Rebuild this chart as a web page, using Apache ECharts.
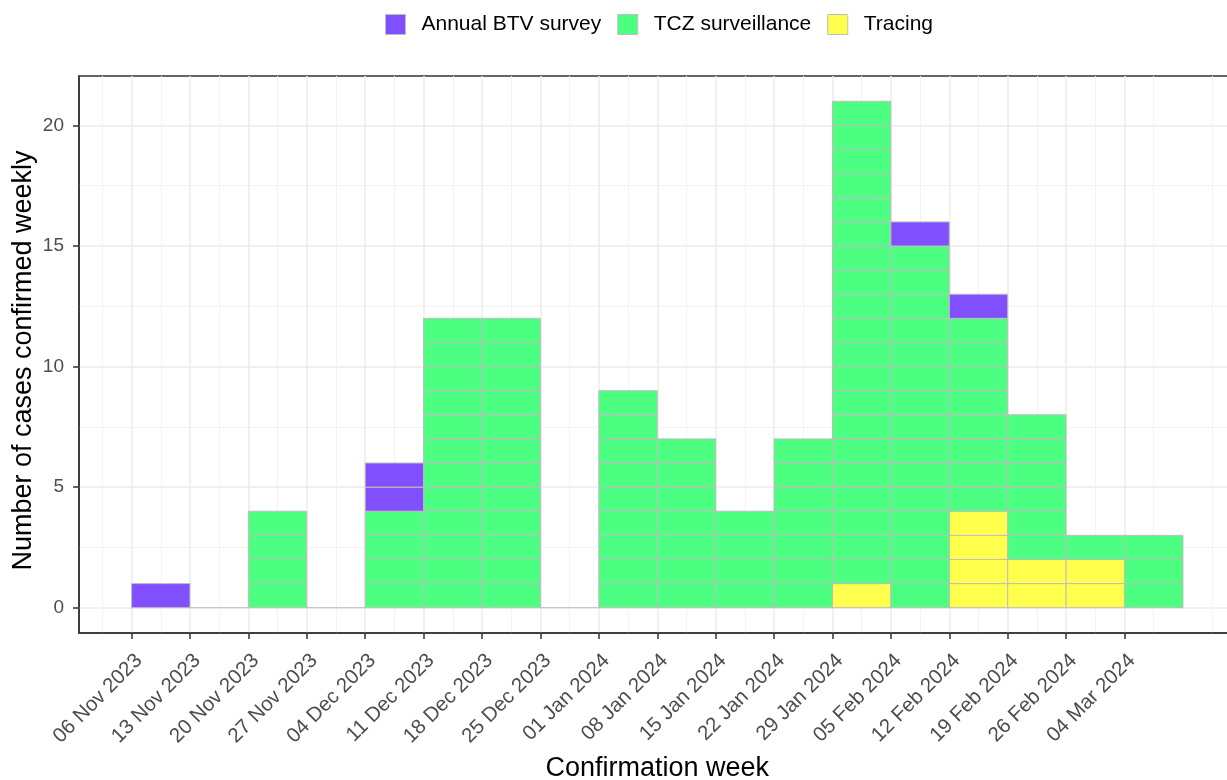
<!DOCTYPE html>
<html>
<head>
<meta charset="utf-8">
<script src="https://cdn.jsdelivr.net/npm/echarts@6/dist/echarts.min.js"></script>
<style>
  html, body { margin: 0; padding: 0; background: #fff; }
  #chart { width: 1227px; height: 780px; }
</style>
</head>
<body>
<div id="chart"></div>
<script>
// weekly confirmed cases, one entry per week starting on the labelled Monday
const weekLabels = ['06 Nov 2023', '13 Nov 2023', '20 Nov 2023', '27 Nov 2023', '04 Dec 2023', '11 Dec 2023',
  '18 Dec 2023', '25 Dec 2023', '01 Jan 2024', '08 Jan 2024', '15 Jan 2024', '22 Jan 2024',
  '29 Jan 2024', '05 Feb 2024', '12 Feb 2024', '19 Feb 2024', '26 Feb 2024', '04 Mar 2024']
const tracing =         [0, 0, 0, 0, 0, 0, 0, 0, 0, 0, 0, 0, 1, 0, 4, 2, 2, 0]
const tczSurveillance = [0, 0, 4, 0, 4, 12, 12, 0, 9, 7, 4, 7, 20, 15, 8, 6, 1, 3]
const annualBtv =       [1, 0, 0, 0, 2, 0, 0, 0, 0, 0, 0, 0, 0, 1, 1, 0, 0, 0]
const yTicks = [0, 5, 10, 15, 20]
const yMinorTicks = [2.5, 7.5, 12.5, 17.5]

const FONT = "'Liberation Sans', Arial, sans-serif"
const OUTLINE = '#BEBEBE'
const colors = {
  'Annual BTV survey': '#8050FF',
  'TCZ surveillance': '#4DFF80',
  'Tracing': '#FFFF4D'
}

// stacked from the bottom: Tracing, TCZ surveillance, Annual BTV survey
const stackOrder = [['Tracing', tracing], ['TCZ surveillance', tczSurveillance], ['Annual BTV survey', annualBtv]]
const xTicks = weekLabels.map((_, i) => i)
const xMinorTicks = weekLabels.map((_, i) => i - 0.5).concat([weekLabels.length - 0.5, weekLabels.length + 0.5])

function blockRenderer(color) {
  return function (params, api) {
    const i = api.value(0), base = api.value(1), n = api.value(2)
    const x0 = api.coord([i, 0])[0]
    const x1 = api.coord([i + 1, 0])[0]
    const children = []
    for (let k = 0; k < n; k++) {
      const yTop = api.coord([i, base + k + 1])[1]
      const yBot = api.coord([i, base + k])[1]
      children.push({
        type: 'rect',
        shape: {x: x0, y: yTop, width: x1 - x0, height: yBot - yTop},
        style: {fill: color, stroke: OUTLINE, lineWidth: 1}
      })
    }
    return {type: 'group', children: children}
  }
}

let bases = weekLabels.map(() => 0)
const series = []
stackOrder.forEach(([name, values]) => {
  const data = values.map((v, i) => [i, bases[i], v])
  bases = bases.map((b, i) => b + values[i])
  series.push({
    name: name,
    type: 'custom',
    renderItem: blockRenderer(colors[name]),
    itemStyle: {color: colors[name]},
    encode: {x: 0, y: [1, 2]},
    data: data,
    z: 3
  })
})

// weeks with no cases still show a flat outline at zero
series.push({
  name: 'empty',
  type: 'custom',
  renderItem: function (params, api) {
    const i = api.value(0)
    const p0 = api.coord([i, 0])
    const p1 = api.coord([i + 1, 0])
    return {type: 'line', shape: {x1: p0[0], y1: p0[1], x2: p1[0], y2: p1[1]}, style: {stroke: OUTLINE, lineWidth: 1}}
  },
  data: bases.map((b, i) => [i, b]).filter(d => d[1] === 0),
  z: 3
})

const chart = echarts.init(document.getElementById('chart'))
const option = {
  backgroundColor: '#fff',
  animation: false,
  textStyle: {fontFamily: FONT},
  legend: {
    data: ['Annual BTV survey', 'TCZ surveillance', 'Tracing'],
    left: 380,
    top: 9,
    icon: 'rect',
    itemWidth: 20,
    itemHeight: 20,
    itemGap: 16,
    itemStyle: {borderColor: OUTLINE, borderWidth: 1},
    textStyle: {fontFamily: FONT, fontSize: 21, color: '#000', padding: [0, 0, 0, 11]}
  },
  grid: {
    left: 79, top: 76, right: -8.5, bottom: 147,
    show: true, borderColor: '#333', borderWidth: 1.5,
    containLabel: false, outerBoundsMode: 'none'
  },
  xAxis: [
    {
      type: 'value', min: -0.9, max: 18.9, position: 'bottom',
      name: 'Confirmation week', nameLocation: 'middle', nameGap: 122, nameMoveOverlap: false,
      nameTextStyle: {fontFamily: FONT, fontSize: 27, color: '#000'},
      axisLine: {show: true, onZero: false, lineStyle: {color: '#333', width: 1.5}},
      axisTick: {show: true, length: 6, lineStyle: {color: '#333', width: 1.5}, customValues: xTicks},
      axisLabel: {
        show: true, rotate: 45, margin: 17, fontSize: 20.5, color: '#4D4D4D', fontFamily: FONT,
        align: 'right', verticalAlign: 'top', customValues: xTicks, hideOverlap: false,
        formatter: v => weekLabels[v] || ''
      },
      splitLine: {show: true, lineStyle: {color: '#EBEBEB', width: 1.5}}
    },
    {
      type: 'value', min: -0.9, max: 18.9, position: 'bottom',
      axisLine: {show: false}, axisLabel: {show: false},
      axisTick: {show: false, customValues: xMinorTicks},
      splitLine: {show: true, lineStyle: {color: '#F3F3F3', width: 1}}
    }
  ],
  yAxis: [
    {
      type: 'value', min: -1.05, max: 22.05, position: 'left',
      name: 'Number of cases confirmed weekly', nameLocation: 'middle', nameGap: 42, nameMoveOverlap: false,
      nameTextStyle: {fontFamily: FONT, fontSize: 27, color: '#000', padding: [0, 12, 0, 0]},
      axisLine: {show: true, onZero: false, lineStyle: {color: '#333', width: 1.5}},
      axisTick: {show: true, length: 6, lineStyle: {color: '#333', width: 1.5}, customValues: yTicks},
      axisLabel: {show: true, margin: 15, fontSize: 19, color: '#4D4D4D', fontFamily: FONT, customValues: yTicks},
      splitLine: {show: true, lineStyle: {color: '#EBEBEB', width: 1.5}}
    },
    {
      type: 'value', min: -1.05, max: 22.05, position: 'left',
      axisLine: {show: false}, axisLabel: {show: false},
      axisTick: {show: false, customValues: yMinorTicks},
      splitLine: {show: true, lineStyle: {color: '#F3F3F3', width: 1}}
    }
  ],
  series: series
}
chart.setOption(option)
</script>
</body>
</html>
